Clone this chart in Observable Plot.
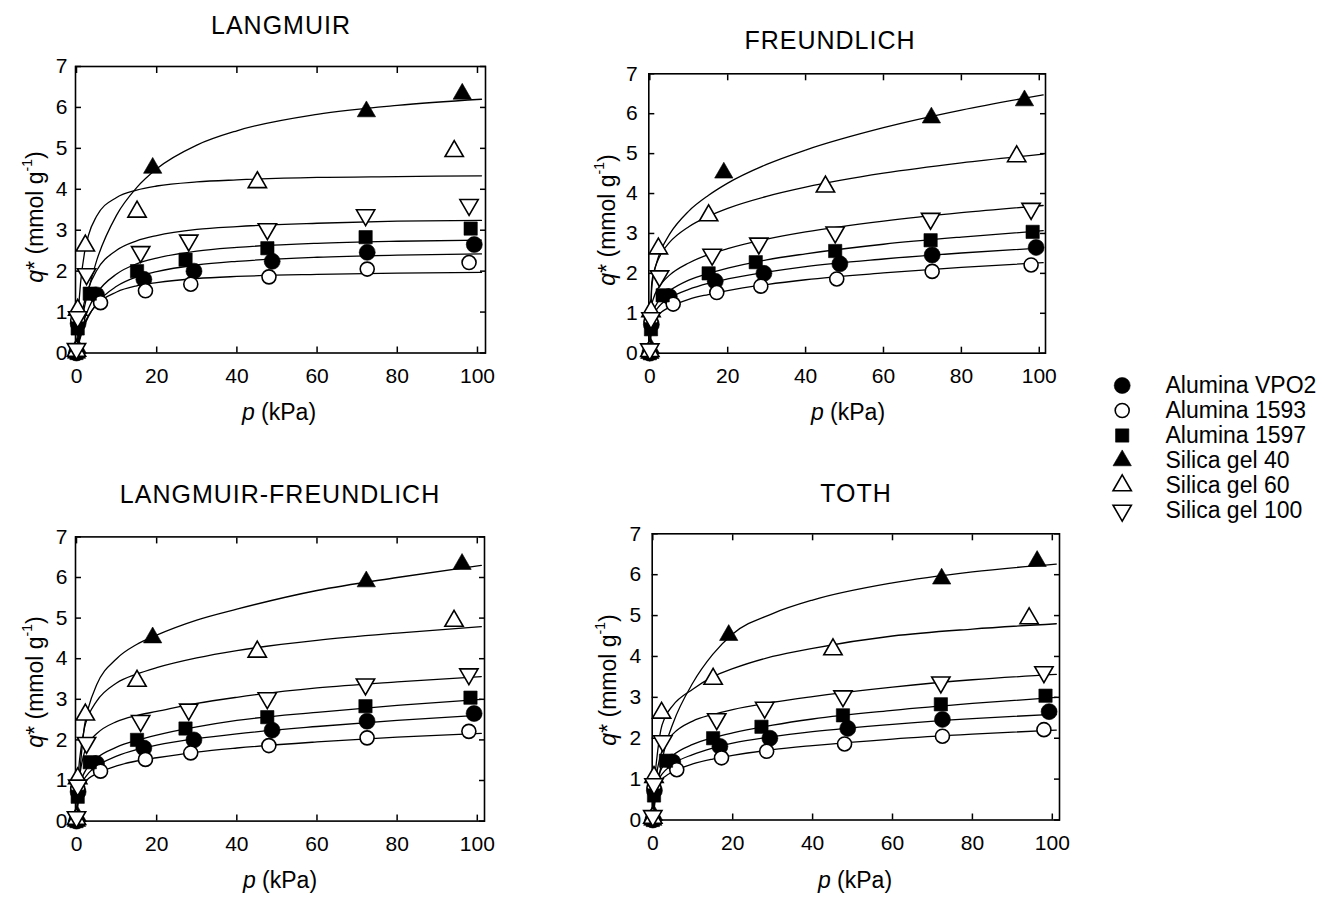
<!DOCTYPE html>
<html>
<head>
<meta charset="utf-8">
<script src="https://cdn.jsdelivr.net/npm/d3@7"></script>
<script src="https://cdn.jsdelivr.net/npm/@observablehq/plot@0.6"></script>
<style>
  html, body { margin: 0; padding: 0; background: #fff; }
  body { width: 1325px; height: 897px; position: relative; overflow: hidden;
         font-family: "Liberation Sans", Arial, Helvetica, sans-serif; color: #000; }
  .abs { position: absolute; }
  .title { font-size: 25px; letter-spacing: 1px; transform: translate(-50%, -50%); white-space: nowrap; }
  .xlab { font-size: 23px; transform: translate(-50%, -50%); white-space: nowrap; }
  .ylab { font-size: 23px; transform: translate(-50%, -50%) rotate(-90deg); white-space: nowrap; }
  .ylab sup { font-size: 14px; position: relative; top: -2px; }
</style>
</head>
<body>
<script>
// ---------- data ----------
const names = ["Alumina VPO2", "Alumina 1593", "Alumina 1597", "Silica gel 40", "Silica gel 60", "Silica gel 100"];
const titles = ["LANGMUIR", "FREUNDLICH", "LANGMUIR-FREUNDLICH", "TOTH"];
const xTicks = [0, 20, 40, 60, 80, 100];
const yTicks = [0, 1, 2, 3, 4, 5, 6, 7];

// experimental points (p in kPa, q* in mmol/g)
const pVPO2  = [0, 0.4, 5.0, 16.8, 29.3, 48.8, 72.5, 99.2];
const qVPO2  = [0, 0.72, 1.42, 1.80, 2.00, 2.24, 2.46, 2.65];
const p1593  = [0, 0.3, 6.0, 17.2, 28.5, 48.0, 72.5, 97.9];
const q1593  = [0, 0.80, 1.23, 1.52, 1.68, 1.86, 2.05, 2.21];
const p1597  = [0, 0.3, 3.3, 15.1, 27.2, 47.6, 72.1, 98.3];
const q1597  = [0, 0.60, 1.45, 2.00, 2.28, 2.56, 2.83, 3.04];
const pSG40  = [0, 0.2, 19.0, 72.3, 96.2];
const qSG40  = [0, 0.12, 4.52, 5.90, 6.33];
const pSG60  = [0, 0.3, 2.2, 15.1, 45.1, 94.2];
const qSG60  = [0.05, 1.05, 2.62, 3.45, 4.17, 4.93];
const pSG100 = [0, 0.3, 2.5, 16.0, 28.0, 47.6, 72.1, 97.9];
const qSG100 = [0.1, 0.88, 1.93, 2.47, 2.75, 3.03, 3.37, 3.62];

// fitted curves at these pressures
const curveP = [0, 0.5, 1, 2, 3, 5, 10, 15, 20, 30, 40, 60, 80, 101];
// order: VPO2, 1593, 1597, SG40, SG60, SG100
const langmuirCurves = [
  [0, 0.21, 0.385, 0.67, 0.89, 1.20, 1.63, 1.86, 1.99, 2.15, 2.24, 2.34, 2.39, 2.42],
  [0, 0.245, 0.44, 0.72, 0.92, 1.18, 1.49, 1.64, 1.72, 1.82, 1.87, 1.92, 1.95, 1.97],
  [0, 0.26, 0.48, 0.83, 1.09, 1.45, 1.93, 2.18, 2.32, 2.49, 2.58, 2.68, 2.73, 2.76],
  [0, 0.32, 0.62, 1.13, 1.55, 2.25, 3.37, 4.04, 4.50, 5.08, 5.43, 5.83, 6.05, 6.20],
  [0, 1.05, 1.70, 2.45, 2.88, 3.34, 3.80, 3.98, 4.08, 4.18, 4.23, 4.29, 4.31, 4.33],
  [0, 0.44, 0.77, 1.26, 1.59, 2.01, 2.51, 2.74, 2.87, 3.02, 3.09, 3.17, 3.22, 3.24]
];
const freundlichCurves = [
  [0, 0.84, 0.98, 1.13, 1.24, 1.38, 1.60, 1.75, 1.86, 2.03, 2.17, 2.36, 2.51, 2.64],
  [0, 0.69, 0.80, 0.94, 1.03, 1.15, 1.35, 1.47, 1.57, 1.72, 1.84, 2.01, 2.15, 2.27],
  [0, 0.93, 1.09, 1.27, 1.40, 1.56, 1.83, 2.00, 2.13, 2.34, 2.49, 2.73, 2.91, 3.07],
  [0, 1.64, 1.97, 2.35, 2.61, 2.97, 3.56, 3.95, 4.26, 4.73, 5.09, 5.65, 6.09, 6.47],
  [0, 1.76, 2.02, 2.31, 2.51, 2.77, 3.17, 3.43, 3.63, 3.93, 4.16, 4.51, 4.77, 4.99],
  [0, 1.20, 1.39, 1.61, 1.75, 1.95, 2.26, 2.47, 2.62, 2.86, 3.04, 3.31, 3.52, 3.70]
];
const lfCurves = [
  [0, 0.65, 0.85, 1.05, 1.18, 1.35, 1.60, 1.76, 1.87, 2.03, 2.15, 2.33, 2.48, 2.61],
  [0, 0.60, 0.78, 0.95, 1.05, 1.17, 1.36, 1.48, 1.56, 1.70, 1.80, 1.95, 2.07, 2.16],
  [0, 0.70, 0.95, 1.20, 1.35, 1.55, 1.82, 1.99, 2.12, 2.32, 2.48, 2.68, 2.85, 3.00],
  [0, 0.80, 1.40, 2.35, 2.80, 3.35, 4.00, 4.35, 4.58, 4.95, 5.22, 5.68, 6.00, 6.30],
  [0, 1.20, 1.70, 2.30, 2.60, 2.95, 3.40, 3.62, 3.78, 4.02, 4.20, 4.45, 4.63, 4.79],
  [0, 0.90, 1.25, 1.70, 1.92, 2.15, 2.45, 2.60, 2.70, 2.90, 3.05, 3.28, 3.43, 3.56]
];
const tothCurves = [
  [0, 0.65, 0.87, 1.08, 1.20, 1.37, 1.60, 1.76, 1.88, 2.04, 2.16, 2.34, 2.48, 2.59],
  [0, 0.60, 0.80, 0.97, 1.06, 1.18, 1.37, 1.49, 1.58, 1.72, 1.82, 1.98, 2.10, 2.20],
  [0, 0.70, 0.95, 1.22, 1.38, 1.58, 1.85, 2.01, 2.13, 2.32, 2.47, 2.68, 2.85, 3.00],
  [0, 0.40, 0.70, 1.30, 1.75, 2.35, 3.35, 4.05, 4.55, 5.05, 5.38, 5.80, 6.07, 6.26],
  [0, 1.00, 1.50, 2.20, 2.50, 2.80, 3.20, 3.50, 3.70, 4.00, 4.20, 4.50, 4.67, 4.80],
  [0, 0.80, 1.15, 1.60, 1.85, 2.10, 2.42, 2.58, 2.70, 2.88, 3.02, 3.25, 3.43, 3.56]
];

// ---------- styles / layout ----------
const symbols = ["circle", "circle", "square", "triangle", "triangle", "triangle"];
const filled = [true, false, true, true, false, false];
const rotations = [0, 0, 0, 0, 0, 180];
const radii = [8, 7, 7.5, 6.8, 6.8, 6.8];

const pointP = [pVPO2, p1593, p1597, pSG40, pSG60, pSG100];
const pointQ = [qVPO2, q1593, q1597, qSG40, qSG60, qSG100];
const models = [langmuirCurves, freundlichCurves, lfCurves, tothCurves];

const layouts = [
  {left: 0,   top: 0,   width: 540, height: 450, mL: 75,    mR: 55, mT: 66,   mB: 97.5, xMin: -0.25, xMax: 102,   yPad: 14, title: [281, 25],  xl: [279, 412], yl: [35, 217]},
  {left: 540, top: 0,   width: 540, height: 450, mL: 108.3, mR: 35, mT: 73.3, mB: 97.3, xMin: -0.26, xMax: 101.6, yPad: 17, title: [830, 40],  xl: [848, 412], yl: [607, 220]},
  {left: 0,   top: 450, width: 540, height: 447, mL: 75,    mR: 56, mT: 86.4, mB: 76.4, xMin: -0.25, xMax: 101.8, yPad: 14, title: [280, 494], xl: [280, 880], yl: [35, 682]},
  {left: 540, top: 450, width: 540, height: 447, mL: 111.7, mR: 21, mT: 83.3, mB: 77.5, xMin: -0.15, xMax: 101.8, yPad: 17, title: [856, 493], xl: [855, 880], yl: [608, 680]}
];

const font = '"Liberation Sans", Arial, Helvetica, sans-serif';
const intFormat = d => String(Math.round(d));

function addDiv(cls, x, y, html) {
  const d = document.createElement("div");
  d.className = "abs " + cls;
  d.style.left = x + "px";
  d.style.top = y + "px";
  d.innerHTML = html;
  document.body.appendChild(d);
}

layouts.forEach((L, k) => {
  const lineRows = [];
  names.forEach((n, i) => curveP.forEach((p, j) => lineRows.push({p, q: models[k][i][j], s: n})));

  const dotMarks = names.map((n, i) => Plot.dot(
    pointP[i].map((p, j) => ({p, q: pointQ[i][j]})),
    {x: "p", y: "q", symbol: symbols[i], r: radii[i],
     fill: filled[i] ? "#000" : "#fff", stroke: "#000",
     strokeWidth: filled[i] ? 0.6 : 1.6, rotate: rotations[i]}
  ));

  const chart = Plot.plot({
    width: L.width, height: L.height,
    marginLeft: L.mL, marginRight: L.mR, marginTop: L.mT, marginBottom: L.mB,
    style: {fontFamily: font, fontSize: "21px", color: "#000", background: "transparent", overflow: "visible"},
    x: {domain: [L.xMin, L.xMax], axis: null},
    y: {domain: [0, 7], axis: null},
    marks: [
      Plot.line(lineRows, {x: "p", y: "q", z: "s", curve: "monotone-x", stroke: "#000", strokeWidth: 1.3, clip: true}),
      Plot.frame({stroke: "#000", strokeWidth: 1.6}),
      Plot.axisX({anchor: "bottom", ticks: xTicks, tickSize: -6, tickPadding: 21, tickFormat: intFormat, strokeWidth: 1.5, fontSize: 21, label: null}),
      Plot.axisX({anchor: "top", ticks: xTicks, tickSize: -6, tickFormat: () => "", strokeWidth: 1.5, label: null}),
      Plot.axisY({anchor: "left", ticks: yTicks, tickSize: -6, tickPadding: L.yPad, tickFormat: intFormat, strokeWidth: 1.5, fontSize: 21, label: null}),
      Plot.axisY({anchor: "right", ticks: yTicks, tickSize: -6, tickFormat: () => "", strokeWidth: 1.5, label: null}),
      ...dotMarks
    ]
  });
  chart.style.position = "absolute";
  chart.style.left = L.left + "px";
  chart.style.top = L.top + "px";
  document.body.appendChild(chart);

  addDiv("title", L.title[0], L.title[1], titles[k]);
  addDiv("xlab", L.xl[0], L.xl[1], "<i>p</i> (kPa)");
  addDiv("ylab", L.yl[0], L.yl[1], "<i>q</i>* (mmol g<sup>-1</sup>)");
});

// ---------- legend ----------
const legend = Plot.plot({
  width: 225, height: 165, margin: 0,
  style: {fontFamily: font, fontSize: "23px", color: "#000", background: "transparent", overflow: "visible"},
  x: {domain: [0, 1], range: [21.7, 65], axis: null},
  y: {type: "point", domain: names, range: [18.3, 146], padding: 0, axis: null},
  marks: [
    ...names.map((n, i) => Plot.dot([n], {
      x: () => 0, y: d => d, symbol: symbols[i], r: radii[i],
      fill: filled[i] ? "#000" : "#fff", stroke: "#000",
      strokeWidth: filled[i] ? 0.6 : 1.6, rotate: rotations[i]
    })),
    Plot.text(names, {x: () => 1, y: d => d, text: d => d, textAnchor: "start", fontSize: 23, fill: "#000"})
  ]
});
legend.style.position = "absolute";
legend.style.left = "1100px";
legend.style.top = "365px";
document.body.appendChild(legend);
</script>
</body>
</html>
